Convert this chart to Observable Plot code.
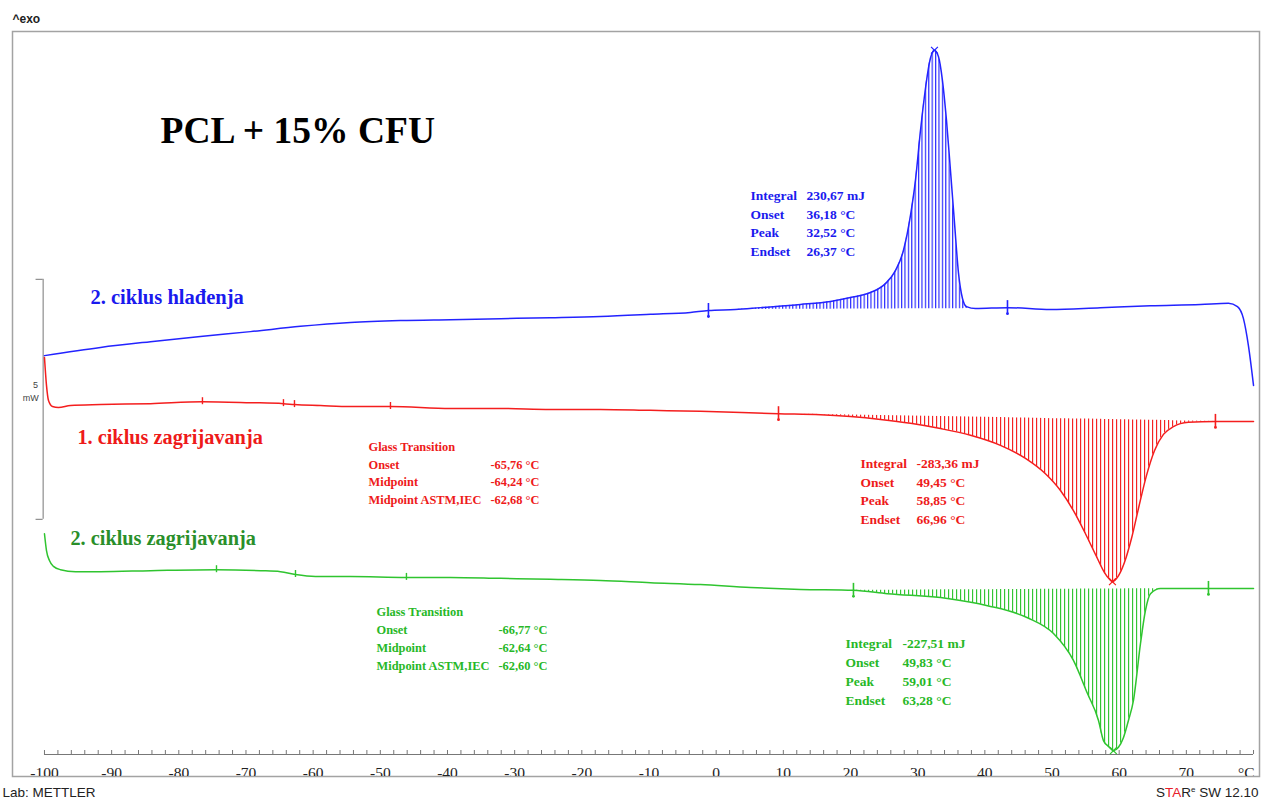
<!DOCTYPE html>
<html><head><meta charset="utf-8">
<script src="https://cdn.jsdelivr.net/npm/d3@7"></script>
<script src="https://cdn.jsdelivr.net/npm/@observablehq/plot@0.6"></script>
<style>html,body{margin:0;padding:0;background:#fff;overflow:hidden}</style>
</head><body><div id="chart"></div>
<script>
// ---------- data (temperature °C, heat flow mW, offset per curve) ----------
const coolT  = [-100,-91.66,-84.22,-76.78,-69.33,-61.89,-54.44,-47.00,-39.56,-32.11,-24.67,-17.23,-9.78,-3.83,-1.15,2.87,6.59,12.55,17.02,19.99,22.97,25.20,26.69,27.88,28.93,29.67,30.42,31.16,31.76,32.50,33.09,33.69,34.29,34.88,35.48,36.07,36.67,37.27,38.61,43.37,49.77,57.21,64.66,72.10,76.27,77.61,78.50,79.24,80.00];
const coolHF = [8.31,8.48,8.60,8.71,8.81,8.92,9.00,9.04,9.06,9.08,9.10,9.125,9.17,9.21,9.25,9.27,9.31,9.375,9.44,9.52,9.625,9.81,10.08,10.50,11.23,11.96,13.00,13.875,14.42,14.67,14.54,14.04,13.21,12.17,11.08,10.04,9.50,9.33,9.29,9.31,9.27,9.31,9.35,9.375,9.40,9.33,9.08,8.52,7.69];

const heat1T  = [-100,-99.70,-99.40,-98.81,-97.92,-96.13,-91.66,-84.22,-76.48,-69.33,-64.42,-62.78,-58.91,-54.44,-48.49,-39.56,-32.11,-24.67,-17.23,-9.78,-2.34,9.28,15.53,19.99,24.46,28.93,33.39,37.86,42.32,46.05,49.02,51.26,53.19,54.98,56.62,57.81,58.56,59.00,59.74,60.78,61.83,62.87,64.06,65.25,66.59,68.08,70.31,74.33,80.00];
const heat1HF = [8.27,7.69,7.375,7.25,7.23,7.27,7.29,7.31,7.35,7.33,7.31,7.29,7.27,7.25,7.25,7.21,7.21,7.19,7.19,7.17,7.15,7.10,7.08,7.04,6.98,6.90,6.79,6.65,6.44,6.17,5.85,5.50,5.08,4.60,4.125,3.79,3.65,3.60,3.69,4.00,4.50,5.125,5.81,6.33,6.67,6.83,6.92,6.94,6.94];

const heat2T  = [-100,-99.70,-99.26,-98.66,-97.62,-95.38,-91.66,-84.22,-74.39,-67.84,-64.87,-62.63,-59.65,-54.44,-46.11,-39.56,-32.11,-24.67,-17.23,-9.78,-2.34,5.11,12.55,20.44,25.50,34.43,40.39,46.35,50.22,53.19,55.28,56.92,57.66,58.40,59.14,59.89,60.63,61.38,62.12,63.17,63.91,64.66,66.15,73.29,80.00];
const heat2HF = [4.60,4.25,4.04,3.92,3.85,3.81,3.81,3.83,3.85,3.83,3.81,3.75,3.71,3.71,3.69,3.69,3.67,3.65,3.625,3.58,3.54,3.48,3.44,3.42,3.35,3.25,3.10,2.85,2.52,1.96,1.27,0.71,0.29,0.17,0.08,0.15,0.35,0.71,1.125,2.31,3.00,3.35,3.46,3.46,3.46];

// integration limits [T, HF] and glass-transition marks
const coolLimits  = [[-1.15, 9.25], [43.37, 9.31]];
const heat1Limits = [[9.28, 7.10], [74.33, 6.94]];
const heat2Limits = [[20.44, 3.42], [73.29, 3.46]];
const heat1Tg = [[-76.48, 7.35], [-64.42, 7.31], [-62.78, 7.29], [-48.49, 7.25]];
const heat2Tg = [[-74.39, 3.85], [-62.63, 3.75], [-46.11, 3.69]];
// integration baselines for the hatched areas [T0, HF0, T1, HF1]
const coolBase  = [2.87, 9.27, 38.61, 9.29];
const heat1Base = [9.28, 7.10, 74.33, 6.94];
const heat2Base = [20.44, 3.42, 73.29, 3.46];

// ---------- texts ----------
const title = "PCL + 15% CFU";
const seriesNames = ["2. ciklus hlađenja", "1. ciklus zagrijavanja", "2. ciklus zagrijavanja"];
const resultLabels = ["Integral", "Onset", "Peak", "Endset"];
const coolValues  = ["230,67 mJ", "36,18 °C", "32,52 °C", "26,37 °C"];
const heat1Values = ["-283,36 mJ", "49,45 °C", "58,85 °C", "66,96 °C"];
const heat2Values = ["-227,51 mJ", "49,83 °C", "59,01 °C", "63,28 °C"];
const glassLabels = ["Glass Transition", "Onset", "Midpoint", "Midpoint ASTM,IEC"];
const heat1Glass  = ["", "-65,76 °C", "-64,24 °C", "-62,68 °C"];
const heat2Glass  = ["", "-66,77 °C", "-62,64 °C", "-62,60 °C"];
const xTickValues = [-100,-90,-80,-70,-60,-50,-40,-30,-20,-10,0,10,20,30,40,50,60,70];
const xTickLabels = ["-100","-90","-80","-70","-60","-50","-40","-30","-20","-10","0","10","20","30","40","50","60","70"];
const xUnit = "°C";
const scaleBar = {span: 5, low: 4.9, label1: "5", label2: "mW"};

// ---------- styling ----------
const BLUE = "#2323ff", RED = "#f41e1e", GREEN = "#2fc42f";
const BLUE_T = "#1a1aee", RED_T = "#ee1a1a", GREEN_T = "#2a8f2a", GREEN_A = "#27b827";
const SERIF = "Liberation Serif, Times New Roman, serif";
const SANS = "Liberation Sans, Arial, sans-serif";

const rows = (T, H) => T.map((t, i) => ({T: t, v: H[i]}));
const cool = rows(coolT, coolHF), heat1 = rows(heat1T, heat1HF), heat2 = rows(heat2T, heat2HF);
function hatch(data, b) {
  const [t0, h0, t1, h1] = b;
  return data.filter(d => d.T >= t0 && d.T <= t1)
             .map(d => ({T: d.T, v: d.v, base: h0 + (h1 - h0) * (d.T - t0) / (t1 - t0)}));
}
const pts = a => a.map(([T, v]) => ({T, v}));

function curveMarks(data, base, color, pat, limits, tg, peakFn) {
  const peak = peakFn(data, d => d.v);
  return [
    Plot.areaY(hatch(data, base), {x: "T", y1: "base", y2: "v", fill: `url(#${pat})`, curve: "monotone-x"}),
    Plot.line(data, {x: "T", y: "v", stroke: color, strokeWidth: 1.5, curve: "monotone-x"}),
    Plot.ruleX(pts(limits), {x: "T", y1: "v", y2: "v", insetTop: -7, insetBottom: -7, stroke: color, strokeWidth: 1.6}),
    Plot.dot(pts(limits), {x: "T", y: "v", dy: 6, r: 1.4, fill: color}),
    Plot.ruleX(pts(tg), {x: "T", y1: "v", y2: "v", insetTop: -4, insetBottom: -3, stroke: color, strokeWidth: 1.4}),
    Plot.dot([peak], {x: "T", y: "v", symbol: "times", r: 3.2, stroke: color, strokeWidth: 1.2})
  ];
}

function block(labels, values, x, xv, y, step, color, size) {
  const out = [];
  labels.forEach((l, i) => {
    out.push(Plot.text([l], {x, y, dy: i * step, text: d => d, textAnchor: "start", fill: color,
      fontSize: size, fontWeight: "bold", fontFamily: SERIF}));
    if (values[i]) out.push(Plot.text([values[i]], {x: xv, y, dy: i * step, text: d => d, textAnchor: "start",
      fill: color, fontSize: size, fontWeight: "bold", fontFamily: SERIF}));
  });
  return out;
}

const minor = d3.range(-100, 80.001, 2);

const chart = Plot.plot({
  width: 1262, height: 799,
  marginLeft: 12, marginRight: 3, marginTop: 31, marginBottom: 23,
  x: {domain: [-104.76, 80.89], axis: null},
  y: {domain: [-0.458, 15.0625], axis: null},
  style: {background: "#fff", fontFamily: SANS},
  marks: [
    Plot.frame({stroke: "#a3a3a3", strokeWidth: 1.5}),
    // x axis drawn at 0
    Plot.ruleY([0], {x1: -100, x2: 80, stroke: "#777", strokeWidth: 1.2}),
    Plot.ruleX(minor, {x: d => d, y1: 0, y2: 0, insetTop: -4, stroke: "#777", strokeWidth: 1}),
    Plot.text(xTickValues, {x: d => d, y: 0, text: (d, i) => xTickLabels[i], dy: 23, lineAnchor: "bottom",
      fontSize: 15.5, fontFamily: SERIF, fill: "#222", clip: true}),
    Plot.text([xUnit], {x: 80, y: 0, text: d => d, dy: 23, dx: 1, lineAnchor: "bottom", textAnchor: "end",
      fontSize: 15.5, fontFamily: SERIF, fill: "#222", clip: true}),
    // scale bar
    Plot.ruleX([scaleBar], {x: -100.2, y1: d => d.low, y2: d => d.low + d.span, stroke: "#777", strokeWidth: 1}),
    Plot.ruleY([scaleBar.low, scaleBar.low + scaleBar.span], {y: d => d, x1: -101.25, x2: -100.2, stroke: "#777", strokeWidth: 1}),
    Plot.text([scaleBar.label1], {x: -100.95, y: 7.69, text: d => d, textAnchor: "end", fontSize: 9, fill: "#444", fontFamily: SANS}),
    Plot.text([scaleBar.label2], {x: -100.85, y: 7.42, text: d => d, textAnchor: "end", fontSize: 9, fill: "#444", fontFamily: SANS}),
    // curves
    ...curveMarks(cool, coolBase, BLUE, "hb", coolLimits, [], d3.greatest),
    ...curveMarks(heat1, heat1Base, RED, "hr", heat1Limits, heat1Tg, d3.least),
    ...curveMarks(heat2, heat2Base, GREEN, "hg", heat2Limits, heat2Tg, d3.least),
    // titles
    Plot.text([title], {x: -82.73, y: 12.98, text: d => d, textAnchor: "start", fontSize: 37.5,
      fontWeight: "bold", fontFamily: SERIF, fill: "#000"}),
    Plot.text([seriesNames[0]], {x: -93.15, y: 9.52, text: d => d, textAnchor: "start", fontSize: 20.5,
      fontWeight: "bold", fontFamily: SERIF, fill: BLUE_T}),
    Plot.text([seriesNames[1]], {x: -95.09, y: 6.60, text: d => d, textAnchor: "start", fontSize: 20.3,
      fontWeight: "bold", fontFamily: SERIF, fill: RED_T}),
    Plot.text([seriesNames[2]], {x: -96.13, y: 4.50, text: d => d, textAnchor: "start", fontSize: 20.3,
      fontWeight: "bold", fontFamily: SERIF, fill: GREEN_T}),
    // result blocks
    ...block(resultLabels, coolValues, 5.11, 13.44, 11.646, 18.7, BLUE_T, 13.5),
    ...block(glassLabels, heat1Glass, -51.76, -33.6, 6.396, 17.4, RED_T, 12.4),
    ...block(resultLabels, heat1Values, 21.48, 29.82, 6.0625, 18.7, RED_T, 13.5),
    ...block(glassLabels, heat2Glass, -50.57, -32.41, 2.958, 17.7, GREEN_A, 12.4),
    ...block(resultLabels, heat2Values, 19.25, 27.74, 2.3125, 19, GREEN_A, 13.5),
    // header / footer
    Plot.text(["^exo"], {frameAnchor: "top-left", text: d => d, dy: -9, lineAnchor: "bottom", textAnchor: "start",
      fontSize: 12, fontWeight: "bold", fill: "#222", fontFamily: SANS}),
    Plot.text(["Lab: METTLER"], {frameAnchor: "bottom-left", text: d => d, dx: -10, dy: 20, lineAnchor: "bottom",
      textAnchor: "start", fontSize: 13.5, fill: "#222", fontFamily: SANS}),
    Plot.text(["STARe SW 12.10"], {frameAnchor: "bottom-right", text: d => d, dx: -1, dy: 20, lineAnchor: "bottom",
      textAnchor: "end", fontSize: 13.5, fill: "#222", fontFamily: SANS})
  ]
});

// hatch patterns
const defs = d3.select(chart).insert("defs", ":first-child");
[["hb", BLUE, 3.4], ["hr", RED, 4.0], ["hg", GREEN, 4.0]].forEach(([id, c, w]) => {
  const p = defs.append("pattern").attr("id", id).attr("patternUnits", "userSpaceOnUse")
    .attr("width", w).attr("height", 10);
  p.append("line").attr("x1", 0.6).attr("x2", 0.6).attr("y1", 0).attr("y2", 10)
    .attr("stroke", c).attr("stroke-width", 1.15);
});
// STARe logo colouring
d3.select(chart).selectAll("text").each(function () {
  if (this.textContent === "STARe SW 12.10") {
    const t = d3.select(this); t.text("");
    t.append("tspan").text("S");
    t.append("tspan").attr("fill", "#e8202a").text("TA");
    t.append("tspan").text("R");
    t.append("tspan").attr("font-size", 8).attr("dy", -5).text("e");
    t.append("tspan").attr("dy", 5).text(" SW 12.10");
  }
});
document.getElementById("chart").appendChild(chart);
</script>
</body></html>
